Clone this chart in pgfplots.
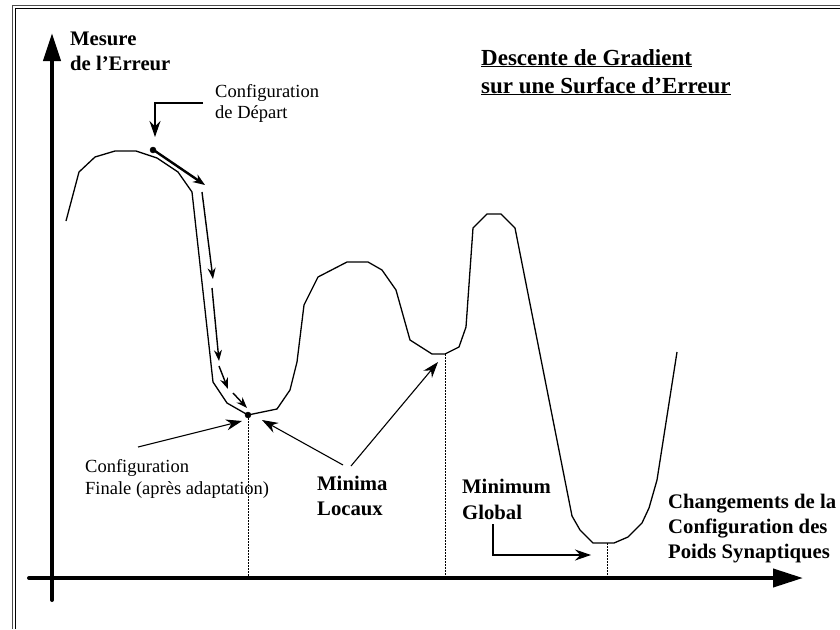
\documentclass[border=0pt]{standalone}
\usepackage{pgfplots}
\pgfplotsset{compat=1.18}
\usepackage{fontspec}
\setmainfont{Liberation Serif}
\usetikzlibrary{arrows.meta}
\begin{document}
\begin{tikzpicture}
\begin{axis}[scale only axis, width=840pt, height=629pt,
  xmin=0, xmax=840, ymin=0, ymax=629, y dir=reverse,
  hide axis, clip=false]
% frame
\addplot[black!70, line width=1.2pt] coordinates {(12.5,629) (12.5,5.5) (840,5.5)};
\addplot[black, line width=1pt] coordinates {(15.5,629) (15.5,8.5) (840,8.5)};
% axes
\addplot[line width=4pt, line cap=round, -{Triangle[length=28pt,width=17pt]}] coordinates {(52,600) (52,33)};
\addplot[line width=4pt, line cap=round, -{Triangle[length=30pt,width=18pt]}] coordinates {(29,578) (803,578)};
% error surface
\addplot[black, line width=1.3pt] coordinates {
(66,221) (79,172) (95,157) (115,151) (136,151) (157,158) (178,172) (192,192)
(213,382) (227,403) (248,415) (277,409) (290,390) (297,362) (304,305) (318,277)
(347,262) (368,262) (382,270) (396,290) (410,340) (432,354) (445,354) (459,347)
(466,327) (473,228) (487,214) (501,214) (515,228) (572,516) (580,530) (593,543)
(614,543) (628,537) (642,523) (649,508) (657,480) (677,352)};
% gradient steps
\addplot[black, line width=2.4pt, -{Stealth[length=12pt,width=9pt]}] coordinates {(155,151) (205,185)};
\addplot[black, line width=1.4pt, -{Stealth[length=11pt,width=8pt]}] coordinates {(202,192) (213,279)};
\addplot[black, line width=1.4pt, -{Stealth[length=11pt,width=8pt]}] coordinates {(212,288) (219,361)};
\addplot[black, line width=1.4pt, -{Stealth[length=11pt,width=8pt]}] coordinates {(219,366) (228,389)};
\addplot[black, line width=1.4pt, -{Stealth[length=11pt,width=8pt]}] coordinates {(233,393) (247,408)};
% start and end points
\addplot[only marks, mark=*, mark size=3pt, black] coordinates {(153,150) (248,415)};
% dotted drops
\addplot[black, line width=1pt, dash pattern=on 1.5pt off 1.5pt] coordinates {(248,418) (248,578)};
\addplot[black, line width=1pt, dash pattern=on 1.5pt off 1.5pt] coordinates {(445,354) (445,578)};
\addplot[black, line width=1pt, dash pattern=on 1.5pt off 1.5pt] coordinates {(607,543) (607,578)};
% callouts
\addplot[black, line width=1.1pt, -{Stealth[length=16pt,width=11pt]}] coordinates {(203,103) (155,103) (155,137)};
\addplot[black, line width=1.1pt, -{Stealth[length=16pt,width=11pt]}] coordinates {(138,447) (242,421)};
\addplot[black, line width=1.1pt, -{Stealth[length=16pt,width=11pt]}] coordinates {(343,465) (262,420)};
\addplot[black, line width=1.1pt, -{Stealth[length=16pt,width=11pt]}] coordinates {(351,466) (438,362)};
\addplot[black, line width=1.1pt, -{Stealth[length=16pt,width=11pt]}] coordinates {(493,524) (493,555) (591,555)};
% texts
\def\bfs{\fontsize{20.7}{25}\selectfont\bfseries}
\def\rgs{\fontsize{18.5}{22}\selectfont}
\node[anchor=base west, inner sep=0pt] at (axis cs:70,45) {\bfs Mesure};
\node[anchor=base west, inner sep=0pt] at (axis cs:70,70) {\bfs de l’Erreur};
\node[anchor=base west, inner sep=0pt] at (axis cs:481,65) {\fontsize{23}{28}\selectfont\bfseries\underline{Descente de Gradient}};
\node[anchor=base west, inner sep=0pt] at (axis cs:481,93) {\fontsize{23}{28}\selectfont\bfseries\underline{sur une Surface d’Erreur}};
\node[anchor=base west, inner sep=0pt] at (axis cs:215,97) {\rgs Configuration};
\node[anchor=base west, inner sep=0pt] at (axis cs:215,118) {\rgs de Départ};
\node[anchor=base west, inner sep=0pt] at (axis cs:85,472) {\rgs Configuration};
\node[anchor=base west, inner sep=0pt] at (axis cs:85,494) {\rgs Finale (après adaptation)};
\node[anchor=base west, inner sep=0pt] at (axis cs:317,490) {\bfs Minima};
\node[anchor=base west, inner sep=0pt] at (axis cs:317,515) {\bfs Locaux};
\node[anchor=base west, inner sep=0pt] at (axis cs:462,493) {\bfs Minimum};
\node[anchor=base west, inner sep=0pt] at (axis cs:462,519) {\bfs Global};
\node[anchor=base west, inner sep=0pt] at (axis cs:668,508) {\bfs Changements de la};
\node[anchor=base west, inner sep=0pt] at (axis cs:668,533) {\bfs Configuration des};
\node[anchor=base west, inner sep=0pt] at (axis cs:668,558) {\bfs Poids Synaptiques};
\end{axis}
\pgfresetboundingbox
\useasboundingbox (current axis.south west) rectangle (current axis.north east);
\end{tikzpicture}
\end{document}
